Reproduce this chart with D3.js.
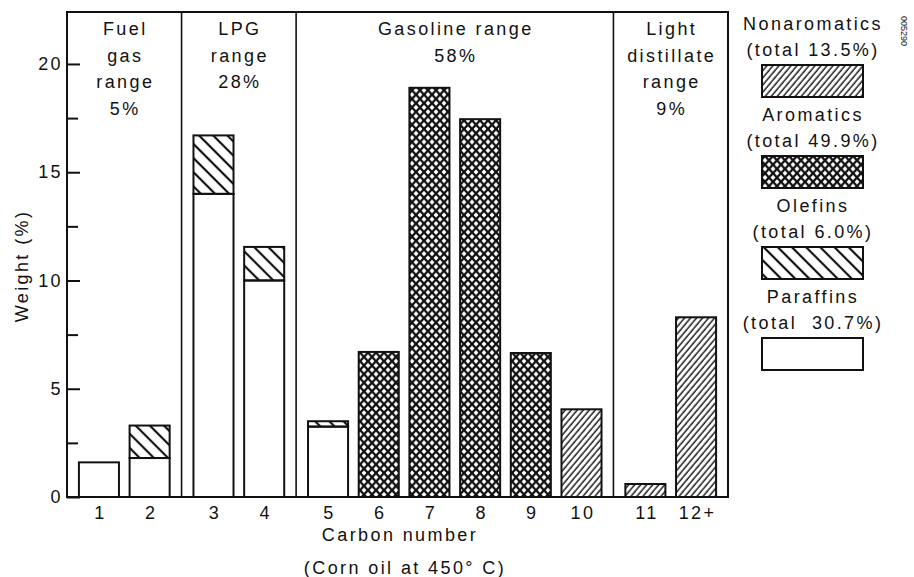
<!DOCTYPE html>
<html>
<head>
<meta charset="utf-8">
<script src="https://cdn.jsdelivr.net/npm/d3@7"></script>
<style>
  body { margin: 0; background: #fff; }
  svg { display: block; }
  text { font-family: "Liberation Sans", Arial, sans-serif; font-size: 18px; letter-spacing: 2.4px; fill: #111; white-space: pre; }
  .axis path { display: none; }
  .axis line { stroke: #111; stroke-width: 2; }
</style>
</head>
<body>
<script>

// carbon numbers on the x axis
var categories = ["1", "2", "3", "4", "5", "6", "7", "8", "9", "10", "11", "12+"];

// weight % per carbon number, one array per compound class (stacked bottom to top)
var paraffins    = [1.6, 1.8, 14.0, 10.0, 3.25, 0, 0, 0, 0, 0, 0, 0];
var olefins      = [0, 1.5, 2.7, 1.55, 0.25, 0, 0, 0, 0, 0, 0, 0];
var aromatics    = [0, 0, 0, 0, 0, 6.7, 18.9, 17.45, 6.65, 0, 0, 0];
var nonaromatics = [0, 0, 0, 0, 0, 0, 0, 0, 0, 4.05, 0.6, 8.3];

// product ranges
var sectionSizes  = [2, 2, 6, 2];
var sectionLabels = [["Fuel", "gas", "range", "5%"], ["LPG", "range", "28%"], ["Gasoline range", "58%"], ["Light", "distillate", "range", "9%"]];

var legendNames  = ["Nonaromatics", "Aromatics", "Olefins", "Paraffins"];
var legendTotals = ["(total 13.5%)", "(total 49.9%)", "(total 6.0%)", "(total  30.7%)"];
var legendKeys   = ["nonaromatics", "aromatics", "olefins", "paraffins"];

var yTicks = [0, 5, 10, 15, 20];
var yMinorTicks = [2.5, 7.5, 12.5, 17.5];

var width = 914, height = 577;
var plot = {left: 67, right: 728, top: 12, bottom: 497};
var pad = 0.13;

var svg = d3.select("body").append("svg").attr("width", width).attr("height", height);

// hatch patterns
var defs = svg.append("defs");
defs.append("pattern").attr("id", "nonaromatics")
	.attr("patternUnits", "userSpaceOnUse").attr("width", 4.6).attr("height", 10)
	.attr("patternTransform", "rotate(40)")
	.append("line").attr("x1", 2).attr("y1", 0).attr("x2", 2).attr("y2", 10)
	.attr("stroke", "#111").attr("stroke-width", 1.4);
defs.append("pattern").attr("id", "olefins")
	.attr("patternUnits", "userSpaceOnUse").attr("width", 10).attr("height", 10)
	.attr("patternTransform", "rotate(-45)")
	.append("line").attr("x1", 5).attr("y1", 0).attr("x2", 5).attr("y2", 10)
	.attr("stroke", "#111").attr("stroke-width", 2.2);
var cross = defs.append("pattern").attr("id", "aromatics")
	.attr("patternUnits", "userSpaceOnUse").attr("width", 8).attr("height", 8.6);
cross.append("rect").attr("width", 8).attr("height", 8.6).attr("fill", "#fff");
cross.append("path").attr("d", "M-1,-1.075 L9,9.675 M9,-1.075 L-1,9.675")
	.attr("stroke", "#111").attr("stroke-width", 2.3);

var fills = {paraffins: "#fff", olefins: "url(#olefins)", aromatics: "url(#aromatics)", nonaromatics: "url(#nonaromatics)"};

// x position: slot index with extra padding around each product range
var sectionOf = [];
sectionSizes.forEach(function(n, s){ for (var k = 0; k < n; k++) sectionOf.push(s); });
var totalSlots = categories.length + 2 * pad * sectionSizes.length;
var x = d3.scaleLinear().domain([0, totalSlots]).range([plot.left, plot.right]);
function slot(i){ return i + pad * (2 * sectionOf[i] + 1); }
var barW = x(0.79) - x(0);

var y = d3.scaleLinear().domain([0, 22.4]).range([plot.bottom, plot.top]);

var table = categories.map(function(c, i){
	return {cat: c, i: i, paraffins: paraffins[i], olefins: olefins[i], aromatics: aromatics[i], nonaromatics: nonaromatics[i]};
});
var series = d3.stack().keys(["paraffins", "olefins", "aromatics", "nonaromatics"])(table);

// section dividers
var bounds = [];
var acc = 0;
sectionSizes.forEach(function(n, s){
	bounds.push({start: acc + 2 * pad * s, end: acc + n + 2 * pad * (s + 1)});
	acc += n;
});
svg.selectAll(".divider").data(bounds.slice(1))
	.enter().append("line")
	.attr("x1", function(d){ return x(d.start); }).attr("x2", function(d){ return x(d.start); })
	.attr("y1", plot.top).attr("y2", plot.bottom)
	.attr("stroke", "#111").attr("stroke-width", 1.6);

// section titles
var sec = svg.selectAll(".section").data(bounds).enter().append("text")
	.attr("class", "section")
	.attr("text-anchor", "middle")
	.attr("y", 35);
sec.selectAll("tspan").data(function(d, s){ return sectionLabels[s].map(function(t){ return {t: t, cx: x((d.start + d.end) / 2)}; }); })
	.enter().append("tspan")
	.attr("x", function(d){ return d.cx + 1; })
	.attr("dy", function(d, k){ return k === 0 ? 0 : 26.5; })
	.text(function(d){ return d.t; });

// bars
svg.selectAll(".layer").data(series).enter().append("g")
	.attr("class", "layer")
	.attr("fill", function(d){ return fills[d.key]; })
	.selectAll("rect").data(function(d){ return d.filter(function(p){ return p[1] - p[0] > 0; }); })
	.enter().append("rect")
	.attr("x", function(d){ return x(slot(d.data.i) + 0.5) - barW / 2; })
	.attr("y", function(d){ return y(d[1]); })
	.attr("width", barW)
	.attr("height", function(d){ return y(d[0]) - y(d[1]); })
	.attr("stroke", "#111").attr("stroke-width", 2);

// frame
svg.append("rect")
	.attr("x", plot.left).attr("y", plot.top)
	.attr("width", plot.right - plot.left).attr("height", plot.bottom - plot.top)
	.attr("fill", "none").attr("stroke", "#111").attr("stroke-width", 2);

// y axis, ticks pointing inwards
svg.append("g").attr("class", "axis")
	.attr("transform", "translate(" + plot.left + ",0)")
	.call(d3.axisLeft(y).tickValues(yTicks).tickSizeInner(-13).tickSizeOuter(0).tickPadding(24))
	.selectAll("text").attr("text-anchor", "end").attr("x", -4);
svg.append("g").attr("class", "axis")
	.attr("transform", "translate(" + plot.left + ",0)")
	.call(d3.axisLeft(y).tickValues(yMinorTicks).tickSizeInner(-11).tickSizeOuter(0).tickFormat(""));

// x axis labels under each bar
var xCenter = d3.scaleOrdinal().domain(categories).range(categories.map(function(c, i){ return x(slot(i) + 0.5); }));
svg.append("g").attr("class", "axis")
	.attr("transform", "translate(0," + plot.bottom + ")")
	.call(d3.axisBottom(xCenter).tickSize(0).tickPadding(9))
	.selectAll("text").attr("dx", "1px");

svg.append("text").attr("x", 400).attr("y", 541).attr("text-anchor", "middle").text("Carbon number");
svg.append("text").attr("x", 405).attr("y", 574).attr("text-anchor", "middle").text("(Corn oil at 450° C)");

svg.append("text")
	.attr("transform", "translate(28," + 266 + ") rotate(-90)")
	.attr("text-anchor", "middle")
	.text("Weight (%)");

// legend
var legend = svg.selectAll(".legend").data(legendKeys).enter().append("g")
	.attr("class", "legend")
	.attr("transform", function(d, i){ return "translate(813," + (65 + i * 91) + ")"; });
legend.append("text").attr("text-anchor", "middle").attr("y", -35).text(function(d, i){ return legendNames[i]; });
legend.append("text").attr("text-anchor", "middle").attr("y", -9).text(function(d, i){ return legendTotals[i]; });
legend.append("rect")
	.attr("x", -51).attr("y", 0).attr("width", 101).attr("height", 32)
	.attr("fill", function(d){ return fills[d]; })
	.attr("stroke", "#111").attr("stroke-width", 2);

svg.append("text")
	.attr("transform", "translate(901,16) rotate(90)")
	.style("font-size", "9px").style("letter-spacing", "0px")
	.text("005290");

</script>
</body>
</html>
